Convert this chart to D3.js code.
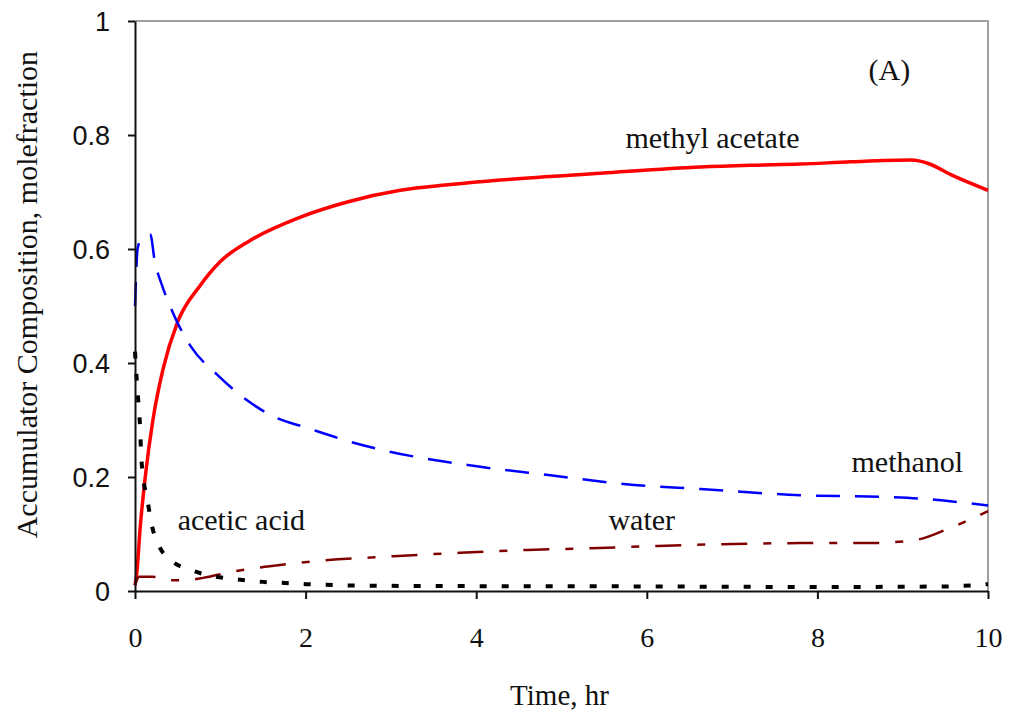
<!DOCTYPE html>
<html lang="en">
<head>
  <meta charset="UTF-8">
  <title>Accumulator Composition</title>
  <style>
    body {
      margin: 0;
      background-color: #fff;
    }
    svg text {
      fill: #111;
    }
  </style>
</head>
<body>
  <div id="chart"></div>

  <script src="https://d3js.org/d3.v7.min.js"></script>
  <script>
    const width = 1011;
    const height = 715;
    const serif = "Liberation Serif";

    // data (time in hr, mole fraction)
    const maTime = [0, 0.02, 0.06, 0.12, 0.21, 0.33, 0.5, 0.76, 1.0, 1.35, 1.94, 2.5, 3.11, 3.7, 4.28, 5.46, 6.63, 7.22, 7.8, 8.39, 9.1, 9.3, 9.57, 10];
    const maValue = [0.01, 0.03, 0.11, 0.2, 0.3, 0.39, 0.472, 0.535, 0.578, 0.615, 0.656, 0.683, 0.703, 0.713, 0.721, 0.733, 0.744, 0.747, 0.749, 0.753, 0.756, 0.75, 0.73, 0.703];

    const meohTime = [0, 0.01, 0.03, 0.08, 0.18, 0.23, 0.32, 0.41, 0.5, 0.65, 0.96, 1.31, 1.64, 2.0, 2.52, 2.91, 3.9, 4.87, 5.85, 6.63, 7.8, 8.78, 9.3, 9.77, 10];
    const meohValue = [0.5, 0.54, 0.6, 0.62, 0.625, 0.58, 0.535, 0.5, 0.47, 0.43, 0.38, 0.335, 0.305, 0.287, 0.262, 0.247, 0.221, 0.203, 0.186, 0.179, 0.168, 0.165, 0.161, 0.154, 0.15];

    const waterTime = [0, 0.05, 0.2, 0.41, 0.6, 0.8, 1.11, 1.5, 2.02, 3.03, 3.81, 4.6, 5.34, 6.13, 7.8, 8.59, 9.13, 9.53, 10];
    const waterValue = [0.01, 0.025, 0.025, 0.019, 0.019, 0.023, 0.033, 0.042, 0.051, 0.061, 0.067, 0.072, 0.075, 0.079, 0.084, 0.084, 0.089, 0.109, 0.14];

    const acidTime = [0, 0.02, 0.04, 0.06, 0.07, 0.095, 0.14, 0.19, 0.28, 0.42, 0.65, 0.92, 1.17, 1.5, 1.76, 2.0, 3, 6, 8, 9.5, 10];
    const acidValue = [0.42, 0.37, 0.33, 0.286, 0.247, 0.2, 0.165, 0.12, 0.08, 0.054, 0.037, 0.026, 0.021, 0.016, 0.014, 0.012, 0.009, 0.008, 0.007, 0.008, 0.012];

    const xTicks = [0, 2, 4, 6, 8, 10];
    const yTicks = [0, 0.2, 0.4, 0.6, 0.8, 1];

    const series = [
      { name: "methyl acetate", t: maTime, v: maValue, color: "#ff0000", w: 3.5, dash: null },
      { name: "methanol", t: meohTime, v: meohValue, color: "#0000ff", w: 2.5, dash: "24,15" },
      { name: "water", t: waterTime, v: waterValue, color: "#800000", w: 2.5, dash: "26,16,8,16" },
      { name: "acetic acid", t: acidTime, v: acidValue, color: "#000000", w: 4, dash: "7,15" }
    ];

    const labels = [
      { text: "methyl acetate", t: 5.75, v: 0.777 },
      { text: "(A)", t: 8.6, v: 0.897 },
      { text: "methanol", t: 8.4, v: 0.209 },
      { text: "water", t: 5.55, v: 0.107 },
      { text: "acetic acid", t: 0.5, v: 0.107 }
    ];

    const margin = { top: 21, right: 23, bottom: 124, left: 135 };

    const svg = d3.select("#chart")
                  .append("svg")
                  .attr("width", width)
                  .attr("height", height);

    const x = d3.scaleLinear().domain([0, 10]).range([margin.left, width - margin.right]);
    const y = d3.scaleLinear().domain([0, 1]).range([height - margin.bottom, margin.top]);

    // gray frame on top and right
    svg.append("path")
       .attr("d", `M${x(0)},${y(1)}H${x(10)}V${y(0)}`)
       .attr("fill", "none")
       .attr("stroke", "#a0a0a0")
       .attr("stroke-width", 2);

    // curves
    const line = d3.line()
                   .x(d => x(d[0]))
                   .y(d => y(d[1]))
                   .curve(d3.curveMonotoneX);

    series.forEach(s => {
      const pts = s.t.map((t, i) => [t, s.v[i]]);
      svg.append("path")
         .datum(pts)
         .attr("d", line)
         .attr("fill", "none")
         .attr("stroke", s.color)
         .attr("stroke-width", s.w)
         .attr("stroke-dasharray", s.dash);
    });

    // axes
    const xAxis = svg.append("g")
                     .attr("transform", `translate(0,${y(0)})`)
                     .call(d3.axisBottom(x).tickValues(xTicks).tickSize(8).tickPadding(28).tickSizeOuter(0).tickFormat(d3.format("d")));

    const yAxis = svg.append("g")
                     .attr("transform", `translate(${x(0)},0)`)
                     .call(d3.axisLeft(y).tickValues(yTicks).tickSize(7).tickPadding(18).tickSizeOuter(0).tickFormat(d => d === 0 || d === 1 ? d : d3.format(".1f")(d)));

    [xAxis, yAxis].forEach(a => {
      a.select(".domain").attr("stroke", "#111").attr("stroke-width", 2);
      a.selectAll(".tick line").attr("stroke", "#111").attr("stroke-width", 2);
    });

    xAxis.attr("font-family", serif).attr("font-size", 28);
    xAxis.selectAll("text").attr("fill", "#111");
    yAxis.attr("font-family", "Liberation Sans").attr("font-size", 27);
    yAxis.selectAll("text").attr("fill", "#333").attr("dy", "0.36em");

    // curve labels
    labels.forEach(l => {
      svg.append("text")
         .attr("x", x(l.t))
         .attr("y", y(l.v))
         .attr("font-family", serif)
         .attr("font-size", 30)
         .text(l.text);
    });

    // axis titles
    svg.append("text")
       .attr("x", x(5) - 2)
       .attr("y", 705)
       .attr("text-anchor", "middle")
       .attr("font-family", serif)
       .attr("font-size", 29)
       .text("Time, hr");

    svg.append("text")
       .attr("transform", `translate(37,${y(0.52)}) rotate(-90)`)
       .attr("text-anchor", "middle")
       .attr("font-family", serif)
       .attr("font-size", 30)
       .text("Accumulator Composition, molefraction");
  </script>
</body>
</html>
